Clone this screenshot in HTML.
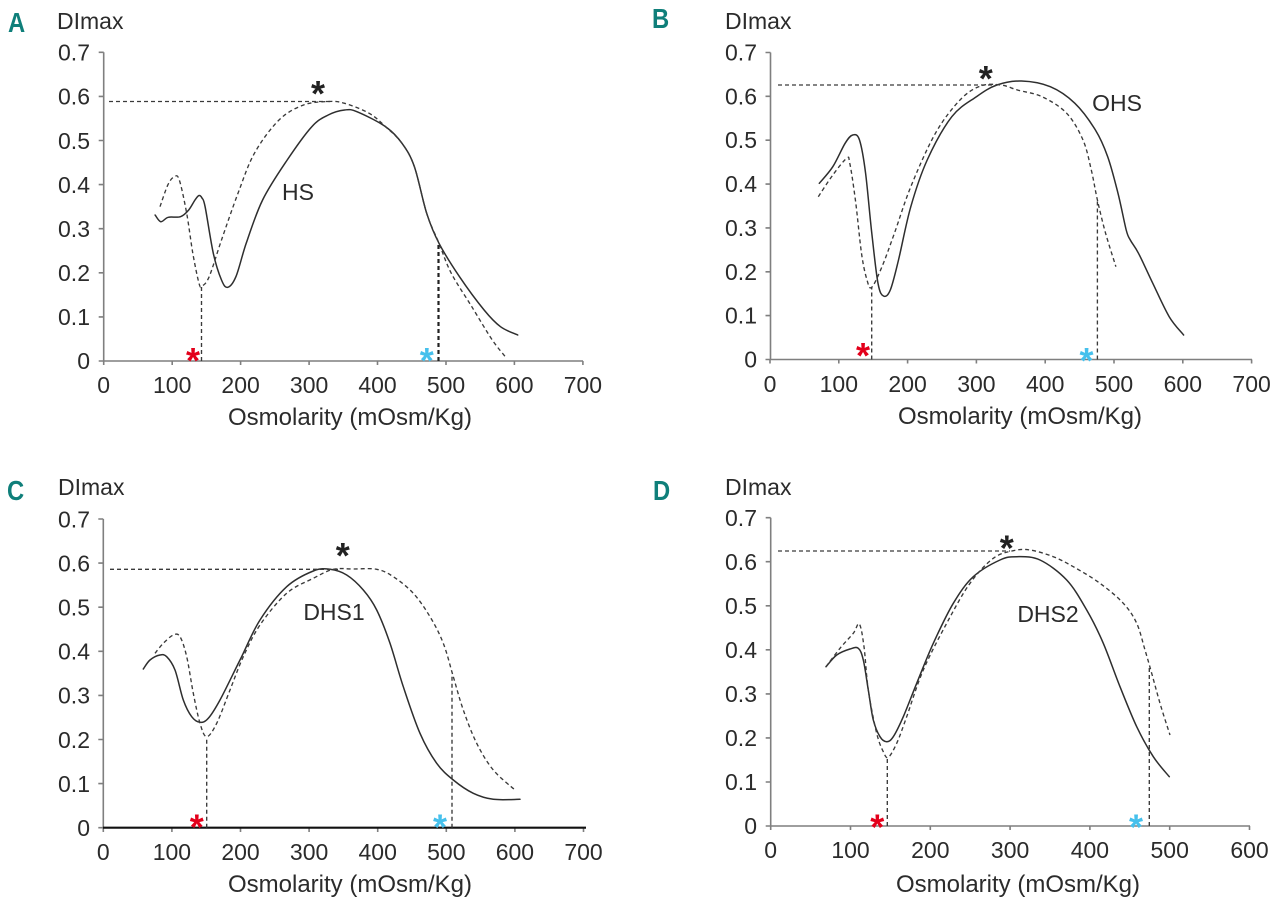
<!DOCTYPE html>
<html>
<head>
<meta charset="utf-8">
<style>
html,body{margin:0;padding:0;background:#fff;}
svg{display:block;}
.t{font-family:"Liberation Sans",Arial,sans-serif;font-size:23px;fill:#2b2b2b;}
.ax{stroke:#7f7f7f;stroke-width:1.6;fill:none;}
.sol{stroke:#2e2e2e;stroke-width:1.5;fill:none;stroke-linejoin:round;stroke-linecap:round;}
.das{stroke:#3a3a3a;stroke-width:1.35;fill:none;stroke-dasharray:4 3;stroke-linejoin:round;}
.lt{font-family:"Liberation Sans Narrow","Liberation Sans",Arial,sans-serif;font-weight:bold;font-size:28px;fill:#0f7f7a;}
.st{font-family:"Liberation Sans",Arial,sans-serif;font-size:36px;font-weight:bold;}
</style>
</head>
<body>
<svg width="1280" height="908" viewBox="0 0 1280 908" xmlns="http://www.w3.org/2000/svg">
<rect width="1280" height="908" fill="#fff"/>

<!-- ================= PANEL A ================= -->
<text class="lt" x="8" y="32" transform="translate(8,32) scale(0.85,1) translate(-8,-32)">A</text>
<text class="t" x="57" y="29">DImax</text>
<g class="t" text-anchor="end">
<text x="90" y="369">0</text>
<text x="90" y="325">0.1</text>
<text x="90" y="281">0.2</text>
<text x="90" y="237">0.3</text>
<text x="90" y="193">0.4</text>
<text x="90" y="149">0.5</text>
<text x="90" y="104.5">0.6</text>
<text x="90" y="60.5">0.7</text>
</g>
<g class="t" text-anchor="middle">
<text x="103.7" y="393">0</text>
<text x="172.2" y="393">100</text>
<text x="240.6" y="393">200</text>
<text x="309.1" y="393">300</text>
<text x="377.5" y="393">400</text>
<text x="446" y="393">500</text>
<text x="514.4" y="393">600</text>
<text x="582.9" y="393">700</text>
</g>
<text class="t" x="350" y="425" text-anchor="middle" style="font-size:24px">Osmolarity (mOsm/Kg)</text>
<path class="ax" d="M103.7,52.3 V361 H583 M98.7,52.3 H103.7 M98.7,96.4 H103.7 M98.7,140.5 H103.7 M98.7,184.6 H103.7 M98.7,228.7 H103.7 M98.7,272.8 H103.7 M98.7,316.9 H103.7 M98.7,361 H103.7 M103.7,361 V365 M172.2,361 V365 M240.6,361 V365 M309.1,361 V365 M377.5,361 V365 M446,361 V365 M514.4,361 V365 M582.9,361 V365"/>
<path class="sol smooth" d="M155.1,215 L160.8,221.7 L168.2,217.3 L180.5,216.7 L188.7,210 L195,200 L199,195.5 L202,198 L205.1,206.7 L213.3,253.3 L221.5,280 L227.7,287.3 L235.9,276.7 L246.2,243.3 L262.6,200 L287.2,160 L311.8,126.7 L328.2,115 L344.6,110 L356.9,111.7 L385.6,126.7 L402,143.3 L414.4,166.7 L426.7,213.3 L439,243.3 L459.5,276.7 L484.1,310 L500.5,326.7 L517.7,335"/>
<path class="das smooth" d="M160,206.7 L168,184.6 L174.4,176.7 L179.3,180 L186.7,213.3 L192.8,253.3 L199,283.3 L202,286 L209.2,276.7 L221.5,240 L238,193.3 L254.4,153.3 L279,120 L303.6,105 L328.2,101.5 L344.6,103.3 L369.2,113.3 L385.6,126.7 L402,143.3 L414.4,166.7 L426.7,213.3 L439,243.3 L451.3,273.3 L471.8,306.7 L492.3,340 L506.7,358.3"/>
<path class="das" d="M109,101.5 H330 M201.5,361 V286"/>
<path class="das" d="M438.5,361 V244" style="stroke-width:2.2;stroke:#222"/>
<text class="t" x="298" y="200" text-anchor="middle">HS</text>
<text class="st" x="318" y="106" text-anchor="middle" fill="#222">*</text>
<text class="st" x="193" y="373" text-anchor="middle" fill="#e3001b">*</text>
<text class="st" x="426.7" y="373" text-anchor="middle" fill="#46c0ec">*</text>

<!-- ================= PANEL B ================= -->
<text class="lt" x="652" y="28" transform="translate(652,28) scale(0.85,1) translate(-652,-28)">B</text>
<text class="t" x="725" y="29">DImax</text>
<g class="t" text-anchor="end">
<text x="757" y="367.5">0</text>
<text x="757" y="323.6">0.1</text>
<text x="757" y="279.8">0.2</text>
<text x="757" y="235.9">0.3</text>
<text x="757" y="192.1">0.4</text>
<text x="757" y="148.2">0.5</text>
<text x="757" y="104.3">0.6</text>
<text x="757" y="60.5">0.7</text>
</g>
<g class="t" text-anchor="middle">
<text x="770" y="392">0</text>
<text x="838.8" y="392">100</text>
<text x="907.6" y="392">200</text>
<text x="976.4" y="392">300</text>
<text x="1045.2" y="392">400</text>
<text x="1114" y="392">500</text>
<text x="1182.8" y="392">600</text>
<text x="1251.6" y="392">700</text>
</g>
<text class="t" x="1020" y="424" text-anchor="middle" style="font-size:24px">Osmolarity (mOsm/Kg)</text>
<path class="ax" d="M770.5,52.5 V359.5 H1252 M765.5,52.5 H770.5 M765.5,96.3 H770.5 M765.5,140.2 H770.5 M765.5,184.1 H770.5 M765.5,227.9 H770.5 M765.5,271.8 H770.5 M765.5,315.6 H770.5 M765.5,359.5 H770.5 M770,359.5 V363.5 M838.8,359.5 V363.5 M907.6,359.5 V363.5 M976.4,359.5 V363.5 M1045.2,359.5 V363.5 M1114,359.5 V363.5 M1182.8,359.5 V363.5 M1251.6,359.5 V363.5"/>
<path class="sol smooth" d="M819.3,183.3 L832.8,166.7 L845.1,143.3 L852.7,135 L859.5,140 L865.6,173.3 L871.8,233.3 L878,283.3 L883.5,296 L890.3,290 L898.5,260 L910.8,206.7 L927.2,160 L951.8,116.7 L976.4,96.7 L996.9,85 L1021.5,81 L1050.3,86.7 L1074.9,103.3 L1095.4,130 L1107.7,156.7 L1118,193.3 L1126.2,230 L1130.3,240 L1138.5,253.3 L1152.8,283.3 L1169.2,316.7 L1183.6,335"/>
<path class="das smooth" d="M818.3,196.7 L832.6,175.3 L846.7,158.3 L849.8,163.4 L855.4,200 L861.5,253.3 L867,280 L871.7,287.3 L882,266.7 L894.4,233.3 L910.8,186.7 L935.4,133.3 L960,100 L980.5,86 L1001,85 L1017.4,90 L1042,96.7 L1066.7,113.3 L1083,140 L1091.3,170 L1097.4,200 L1105.6,233.3 L1115.9,266.7"/>
<path class="das" d="M778,85 H997 M871.7,359.5 V287.3 M1097.4,359.5 V200"/>
<text class="t" x="1117" y="111" text-anchor="middle">OHS</text>
<text class="st" x="985.8" y="91" text-anchor="middle" fill="#222">*</text>
<text class="st" x="863" y="368" text-anchor="middle" fill="#e3001b">*</text>
<text class="st" x="1086.5" y="373" text-anchor="middle" fill="#46c0ec">*</text>

<!-- ================= PANEL C ================= -->
<text class="lt" x="7" y="500" transform="translate(7,500) scale(0.85,1) translate(-7,-500)">C</text>
<text class="t" x="58" y="495">DImax</text>
<g class="t" text-anchor="end">
<text x="90" y="836">0</text>
<text x="90" y="792">0.1</text>
<text x="90" y="748">0.2</text>
<text x="90" y="703.7">0.3</text>
<text x="90" y="659.6">0.4</text>
<text x="90" y="615.5">0.5</text>
<text x="90" y="571.4">0.6</text>
<text x="90" y="527.3">0.7</text>
</g>
<g class="t" text-anchor="middle">
<text x="103.3" y="860">0</text>
<text x="171.9" y="860">100</text>
<text x="240.5" y="860">200</text>
<text x="309.1" y="860">300</text>
<text x="377.7" y="860">400</text>
<text x="446.3" y="860">500</text>
<text x="514.9" y="860">600</text>
<text x="583.5" y="860">700</text>
</g>
<text class="t" x="350" y="892" text-anchor="middle" style="font-size:24px">Osmolarity (mOsm/Kg)</text>
<path class="ax" d="M103.3,519 V827.7 M98.3,519 H103.3 M98.3,563.1 H103.3 M98.3,607.2 H103.3 M98.3,651.3 H103.3 M98.3,695.4 H103.3 M98.3,739.5 H103.3 M98.3,783.6 H103.3 M98.3,827.7 H103.3 M103.3,827.7 V832 M171.9,827.7 V832 M240.5,827.7 V832 M309.1,827.7 V832 M377.7,827.7 V832 M446.3,827.7 V832 M514.9,827.7 V832 M583.5,827.7 V832"/>
<path d="M103,827.7 H586" stroke="#111" stroke-width="2.2" fill="none"/>
<path class="sol smooth" d="M143.3,669 L150,660 L160,655 L166.7,656.7 L175,670 L183.3,700 L191.7,716.7 L200,722.3 L208.3,718.3 L220,700 L240,660 L260,620 L286.7,586.7 L313.3,571 L330,569.3 L346.7,575 L363.3,590 L376.7,610 L390,643.3 L403.3,686.7 L420,733.3 L436.7,763.3 L453.3,780 L473.3,793.3 L493.3,799.3 L520,799.3"/>
<path class="das smooth" d="M155,653.3 L163.3,643.3 L173.3,635 L180,636.7 L186.7,656.7 L193.3,693.3 L200,723.3 L206.7,736.7 L216.7,723.3 L230,690 L243.3,656.7 L260,625 L286.7,593.3 L313.3,578.3 L333.3,569.3 L353.3,569 L376.7,569.3 L393.3,576.7 L413.3,593.3 L430,616.7 L443.3,643.3 L453.3,676.7 L463.3,710 L476.7,743.3 L493.3,770 L515,790"/>
<path class="das" d="M110,569.3 H340 M206.7,827.7 V736.7 M452,827.7 V676"/>
<text class="t" x="334" y="620" text-anchor="middle">DHS1</text>
<text class="st" x="342.7" y="568" text-anchor="middle" fill="#222">*</text>
<text class="st" x="196.7" y="839.5" text-anchor="middle" fill="#e3001b">*</text>
<text class="st" x="440" y="839.5" text-anchor="middle" fill="#46c0ec">*</text>

<!-- ================= PANEL D ================= -->
<text class="lt" x="653" y="500" transform="translate(653,500) scale(0.85,1) translate(-653,-500)">D</text>
<text class="t" x="725" y="495">DImax</text>
<g class="t" text-anchor="end">
<text x="757" y="834">0</text>
<text x="757" y="790">0.1</text>
<text x="757" y="746">0.2</text>
<text x="757" y="702">0.3</text>
<text x="757" y="658">0.4</text>
<text x="757" y="614">0.5</text>
<text x="757" y="570">0.6</text>
<text x="757" y="526">0.7</text>
</g>
<g class="t" text-anchor="middle">
<text x="770.7" y="858">0</text>
<text x="850.5" y="858">100</text>
<text x="930.3" y="858">200</text>
<text x="1010.1" y="858">300</text>
<text x="1089.9" y="858">400</text>
<text x="1169.7" y="858">500</text>
<text x="1249.5" y="858">600</text>
</g>
<text class="t" x="1018" y="892" text-anchor="middle" style="font-size:24px">Osmolarity (mOsm/Kg)</text>
<path class="ax" d="M770.7,517.7 V826 H1250 M765.7,517.7 H770.7 M765.7,561.7 H770.7 M765.7,605.8 H770.7 M765.7,649.8 H770.7 M765.7,693.9 H770.7 M765.7,737.9 H770.7 M765.7,782 H770.7 M765.7,826 H770.7 M770.7,826 V830 M850.5,826 V830 M930.3,826 V830 M1010.1,826 V830 M1089.9,826 V830 M1169.7,826 V830 M1249.5,826 V830"/>
<path class="sol smooth" d="M826,666.7 L836.7,655 L850,649 L858.3,648.3 L863.3,660 L868.3,690 L873.3,720 L880,736.7 L886.7,741.7 L893.3,736.7 L903.3,716.7 L916.7,683.3 L933.3,643.3 L953.3,603.3 L973.3,576.7 L1000,560 L1016.7,556.7 L1040,560 L1066.7,580 L1086.7,610 L1103.3,643.3 L1120,686.7 L1136.7,726.7 L1153.3,756.7 L1169.3,776.7"/>
<path class="das smooth" d="M826,666.7 L840,648.3 L853.3,633.3 L859.3,624 L864,646.7 L868.3,690 L876.7,733.3 L883.3,751.7 L888.3,757.3 L896.7,743.3 L906.7,716.7 L923.3,670 L946.7,623.3 L970,583.3 L993.3,558.3 L1013.3,550.7 L1030,550 L1053.3,556.7 L1073.3,566.7 L1100,583.3 L1123.3,603.3 L1136.7,623.3 L1145,650 L1151.7,673.3 L1160,703.3 L1170,735"/>
<path class="das" d="M778,551 H1010 M887.3,826 V757 M1149.3,826 V668"/>
<text class="t" x="1048" y="622" text-anchor="middle">DHS2</text>
<text class="st" x="1006.7" y="560.5" text-anchor="middle" fill="#222">*</text>
<text class="st" x="877.3" y="839.5" text-anchor="middle" fill="#e3001b">*</text>
<text class="st" x="1136" y="839.5" text-anchor="middle" fill="#46c0ec">*</text>
</svg>
<script>
(function(){
  var ps=document.querySelectorAll('path.smooth');
  for(var i=0;i<ps.length;i++){
    var d=ps[i].getAttribute('d');
    var nums=d.replace(/[ML]/g,' ').trim().split(/[\s,]+/).map(Number);
    var pts=[];
    for(var j=0;j+1<nums.length;j+=2)pts.push([nums[j],nums[j+1]]);
    if(pts.length<3)continue;
    var s='M'+pts[0][0]+','+pts[0][1];
    var t=0.5;
    for(var k=0;k<pts.length-1;k++){
      var p0=pts[k>0?k-1:k],p1=pts[k],p2=pts[k+1],p3=pts[k+2<pts.length?k+2:k+1];
      var c1x=p1[0]+(p2[0]-p0[0])*t/3,c1y=p1[1]+(p2[1]-p0[1])*t/3;
      var c2x=p2[0]-(p3[0]-p1[0])*t/3,c2y=p2[1]-(p3[1]-p1[1])*t/3;
      s+=' C'+c1x.toFixed(1)+','+c1y.toFixed(1)+' '+c2x.toFixed(1)+','+c2y.toFixed(1)+' '+p2[0]+','+p2[1];
    }
    ps[i].setAttribute('d',s);
  }
})();
</script>
</body>
</html>
